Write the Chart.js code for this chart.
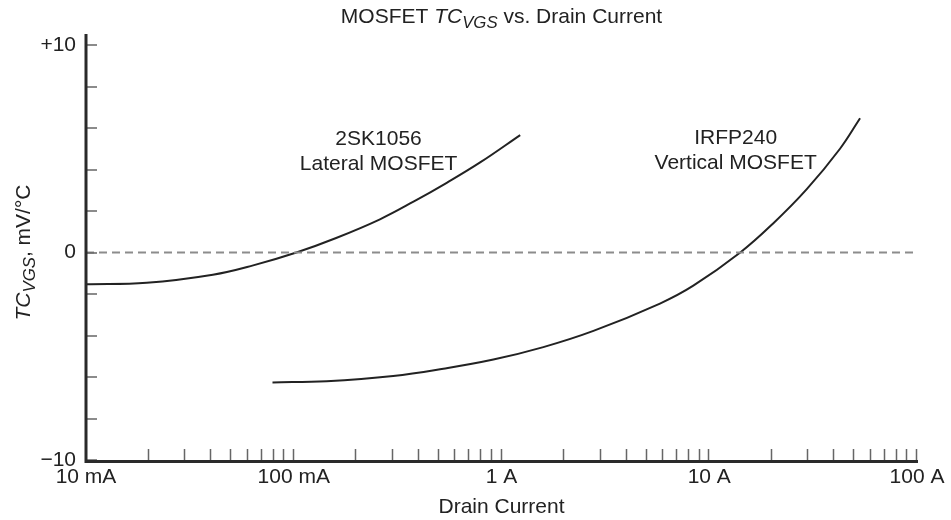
<!DOCTYPE html>
<html>
<head>
<meta charset="utf-8">
<script src="https://cdn.jsdelivr.net/npm/chart.js@4.4.1/dist/chart.umd.min.js"></script>
<style>
    html, body { margin: 0; padding: 0; background: #fff; }
    #wrap { width: 951px; height: 520px; position: relative; }
</style>
</head>
<body>
<div id="wrap"><canvas id="chart"></canvas></div>
<script>
/* ============================================================
   DATA  (drain current in A, TC_VGS in mV/°C)
============================================================ */

const lateralCurrent  = [0.01, 0.0196, 0.0408, 0.0638, 0.103, 0.16, 0.26, 0.377, 0.545, 0.789, 1.23];
const lateralTC       = [-1.53, -1.46, -1.07, -0.62, 0.0, 0.7, 1.6, 2.45, 3.36, 4.34, 5.66];

const verticalCurrent = [0.079, 0.144, 0.301, 0.525, 0.914, 1.59, 2.77, 5.79, 8.38, 14.1, 20.3, 29.4, 42.6, 53.2];
const verticalTC      = [-6.26, -6.2, -5.95, -5.6, -5.16, -4.56, -3.78, -2.46, -1.6, 0.0, 1.4, 3.04, 5.0, 6.47];

const zeroCurrent = [0.01, 100];
const zeroTC      = [0, 0];

const xMajorTicks = [0.01, 0.1, 1, 10, 100];
const xTickLabels = ["10 mA", "100 mA", "1 A", "10 A", "100 A"];

const yLabelTicks = [10, 0, -10];
const yTickLabels = ["+10", "0", "\u221210"];

const curveNames = [["2SK1056", "Lateral MOSFET"], ["IRFP240", "Vertical MOSFET"]];


/* ============================================================
   HELPERS
============================================================ */

const FONT = '"Liberation Sans", Arial, Helvetica, sans-serif';
const FONT_SIZE = 21;
const INK = "#222";

function zip(xs, ys) {
    return xs.map((x, i) => ({ x: x, y: ys[i] }));
}

// draw a list of {t, italic, sub} pieces centred on (0,0) baseline
function richText(ctx, parts, size) {
    const fontFor = p => (p.italic ? "italic " : "") + (p.sub ? size * 0.8 : size) + "px " + FONT;
    let total = 0;
    parts.forEach(p => { ctx.font = fontFor(p); total += ctx.measureText(p.t).width; });
    let x = -total / 2;
    parts.forEach(p => {
        ctx.font = fontFor(p);
        ctx.fillText(p.t, x, p.sub ? 5 : 0);
        x += ctx.measureText(p.t).width;
    });
}


/* ============================================================
   PLUGIN: axes, inward ticks, titles, curve labels
============================================================ */

const decorPlugin = {
    id: "decor",
    afterDatasetsDraw(chart) {
        const ctx = chart.ctx;
        const xs = chart.scales.x, ys = chart.scales.y;
        const area = chart.chartArea;

        ctx.save();

        // minor / major ticks, pointing inward
        ctx.strokeStyle = "#666";
        ctx.lineWidth = 1.5;
        ctx.beginPath();
        for (let dec = 0.01; dec < 50; dec *= 10) {
            for (let m = 2; m <= 10; m++) {
                const px = Math.round(xs.getPixelForValue(m * dec)) - 0.5;
                ctx.moveTo(px, area.bottom);
                ctx.lineTo(px, area.bottom - 11);
            }
        }
        ys.ticks.forEach(t => {
            const py = Math.round(ys.getPixelForValue(t.value));
            ctx.moveTo(area.left, py);
            ctx.lineTo(area.left + 11, py);
        });
        ctx.stroke();

        // axis lines
        ctx.strokeStyle = "#2a2a2a";
        ctx.lineWidth = 3;
        ctx.beginPath();
        ctx.moveTo(area.left, area.top - 11);
        ctx.lineTo(area.left, area.bottom + 1.5);
        ctx.lineTo(area.right + 1, area.bottom + 1.5);
        ctx.stroke();

        ctx.fillStyle = INK;
        ctx.textAlign = "left";
        ctx.textBaseline = "alphabetic";

        // chart title
        ctx.save();
        ctx.translate((area.left + area.right) / 2, 22.5);
        richText(ctx, [
            { t: "MOSFET " },
            { t: "TC", italic: true },
            { t: "VGS", italic: true, sub: true },
            { t: " vs. Drain Current" }
        ], FONT_SIZE);
        ctx.restore();

        // x axis title
        ctx.save();
        ctx.translate((area.left + area.right) / 2, 513);
        richText(ctx, [{ t: "Drain Current" }], FONT_SIZE);
        ctx.restore();

        // y axis title
        ctx.save();
        ctx.translate(30, (area.top + area.bottom) / 2);
        ctx.rotate(-Math.PI / 2);
        richText(ctx, [
            { t: "TC", italic: true },
            { t: "VGS", italic: true, sub: true },
            { t: ", mV/\u00B0C" }
        ], FONT_SIZE);
        ctx.restore();

        // curve names
        const anchors = [{ x: 0.256, y: 5.18 }, { x: 13.4, y: 5.23 }];
        ctx.font = FONT_SIZE + "px " + FONT;
        ctx.textAlign = "center";
        curveNames.forEach((lines, i) => {
            const px = xs.getPixelForValue(anchors[i].x);
            const py = ys.getPixelForValue(anchors[i].y);
            lines.forEach((s, j) => ctx.fillText(s, px, py + j * 25));
        });

        ctx.restore();
    }
};


/* ============================================================
   CHART
============================================================ */

new Chart(document.getElementById("chart"), {
    type: "line",
    data: {
        datasets: [
            {
                data: zip(zeroCurrent, zeroTC),
                borderColor: "#8c8c8c",
                borderWidth: 2,
                borderDash: [8, 5],
                pointRadius: 0
            },
            {
                label: curveNames[0].join(" "),
                data: zip(lateralCurrent, lateralTC),
                borderColor: INK,
                borderWidth: 2,
                pointRadius: 0,
                tension: 0.4
            },
            {
                label: curveNames[1].join(" "),
                data: zip(verticalCurrent, verticalTC),
                borderColor: INK,
                borderWidth: 2,
                pointRadius: 0,
                tension: 0.4
            }
        ]
    },
    options: {
        responsive: true,
        maintainAspectRatio: false,
        animation: false,
        layout: { padding: { top: 45, right: 34, left: 0, bottom: 0 } },
        plugins: { legend: { display: false }, tooltip: { enabled: false } },
        scales: {
            x: {
                type: "logarithmic",
                min: 0.01,
                max: 100,
                afterFit: s => { s.height = 60; },
                afterBuildTicks: s => { s.ticks = xMajorTicks.map(v => ({ value: v })); },
                grid: { display: false, drawTicks: false },
                border: { display: false },
                ticks: {
                    autoSkip: false,
                    maxRotation: 0,
                    padding: 5,
                    color: INK,
                    font: { family: FONT, size: FONT_SIZE },
                    callback: v => xTickLabels[xMajorTicks.indexOf(v)]
                }
            },
            y: {
                min: -10,
                max: 10,
                afterFit: s => { s.width = 86; },
                grid: { display: false, drawTicks: false },
                border: { display: false },
                ticks: {
                    stepSize: 2,
                    autoSkip: false,
                    padding: 10,
                    color: INK,
                    font: { family: FONT, size: FONT_SIZE },
                    callback: v => {
                        const i = yLabelTicks.indexOf(v);
                        return i < 0 ? "" : yTickLabels[i];
                    }
                }
            }
        }
    },
    plugins: [decorPlugin]
});
</script>
</body>
</html>
